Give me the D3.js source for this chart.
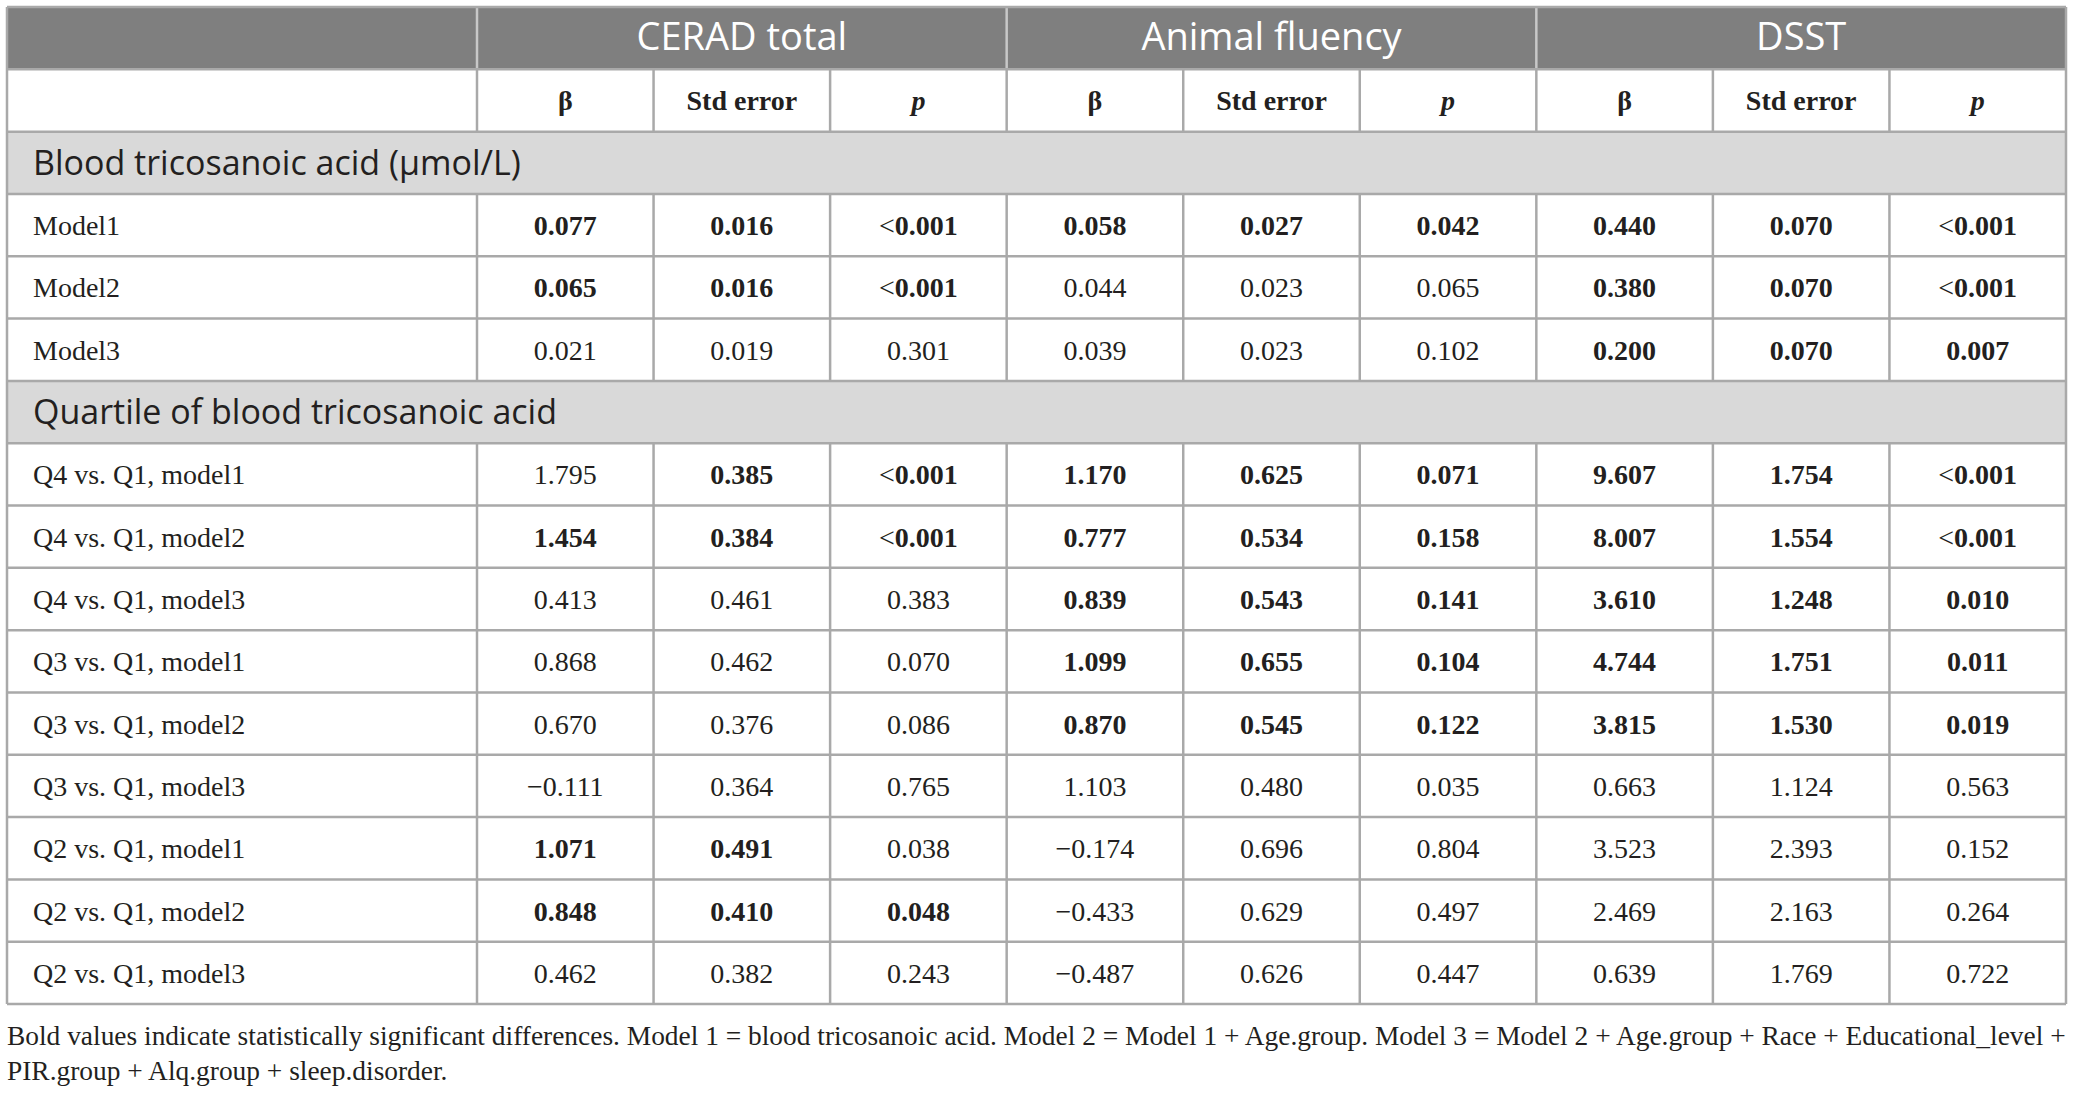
<!DOCTYPE html>
<html>
<head>
<meta charset="utf-8">
<script src="https://cdn.jsdelivr.net/npm/d3@7"></script>
<style>
  html, body { margin: 0; padding: 0; background: #fff; }
  svg { display: block; }
</style>
</head>
<body>
<svg id="chart" width="2073" height="1093"></svg>
<script>
// ---------- DATA ----------
const groups = ["CERAD total", "Animal fluency", "DSST"];
const subHeaders = ["β", "Std error", "p"];
const section1 = "Blood tricosanoic acid (μmol/L)";
const section2 = "Quartile of blood tricosanoic acid";

const labels1 = ["Model1", "Model2", "Model3"];
const values1 = [
  ["0.077", "0.016", "<0.001", "0.058", "0.027", "0.042", "0.440", "0.070", "<0.001"],
  ["0.065", "0.016", "<0.001", "0.044", "0.023", "0.065", "0.380", "0.070", "<0.001"],
  ["0.021", "0.019", "0.301", "0.039", "0.023", "0.102", "0.200", "0.070", "0.007"]
];
const bold1 = [
  [1,1,1, 1,1,1, 1,1,1],
  [1,1,1, 0,0,0, 1,1,1],
  [0,0,0, 0,0,0, 1,1,1]
];

const labels2 = [
  "Q4 vs. Q1, model1", "Q4 vs. Q1, model2", "Q4 vs. Q1, model3",
  "Q3 vs. Q1, model1", "Q3 vs. Q1, model2", "Q3 vs. Q1, model3",
  "Q2 vs. Q1, model1", "Q2 vs. Q1, model2", "Q2 vs. Q1, model3"
];
const values2 = [
  ["1.795", "0.385", "<0.001", "1.170", "0.625", "0.071", "9.607", "1.754", "<0.001"],
  ["1.454", "0.384", "<0.001", "0.777", "0.534", "0.158", "8.007", "1.554", "<0.001"],
  ["0.413", "0.461", "0.383", "0.839", "0.543", "0.141", "3.610", "1.248", "0.010"],
  ["0.868", "0.462", "0.070", "1.099", "0.655", "0.104", "4.744", "1.751", "0.011"],
  ["0.670", "0.376", "0.086", "0.870", "0.545", "0.122", "3.815", "1.530", "0.019"],
  ["\u22120.111", "0.364", "0.765", "1.103", "0.480", "0.035", "0.663", "1.124", "0.563"],
  ["1.071", "0.491", "0.038", "\u22120.174", "0.696", "0.804", "3.523", "2.393", "0.152"],
  ["0.848", "0.410", "0.048", "\u22120.433", "0.629", "0.497", "2.469", "2.163", "0.264"],
  ["0.462", "0.382", "0.243", "\u22120.487", "0.626", "0.447", "0.639", "1.769", "0.722"]
];
const bold2 = [
  [0,1,1, 1,1,1, 1,1,1],
  [1,1,1, 1,1,1, 1,1,1],
  [0,0,0, 1,1,1, 1,1,1],
  [0,0,0, 1,1,1, 1,1,1],
  [0,0,0, 1,1,1, 1,1,1],
  [0,0,0, 0,0,0, 0,0,0],
  [1,1,0, 0,0,0, 0,0,0],
  [1,1,1, 0,0,0, 0,0,0],
  [0,0,0, 0,0,0, 0,0,0]
];

const footnote = [
  "Bold values indicate statistically significant differences. Model 1 = blood tricosanoic acid. Model 2 = Model 1 + Age.group. Model 3 = Model 2 + Age.group + Race + Educational_level +",
  "PIR.group + Alq.group + sleep.disorder."
];

// ---------- LAYOUT ----------
const svg = d3.select("#chart");
const L = 7, R = 2066, T = 7, B = 1004, C0 = 477;
const serif = "'Liberation Serif', 'Times New Roman', serif";
const sans = "'Open Sans', 'Noto Sans', sans-serif";
const gridColor = "#a9a9a9";
const ink = "#231f20";

const rows = [];
rows.push({kind: "h1"});
rows.push({kind: "h2"});
rows.push({kind: "sec", text: section1});
labels1.forEach((l, i) => rows.push({kind: "data", label: l, vals: values1[i], bold: bold1[i]}));
rows.push({kind: "sec", text: section2});
labels2.forEach((l, i) => rows.push({kind: "data", label: l, vals: values2[i], bold: bold2[i]}));

const y = d3.scaleBand().domain(d3.range(rows.length)).range([T, B]).padding(0);
const colKeys = d3.range(9);
const x = d3.scaleBand().domain(colKeys).range([C0, R]).padding(0);
const gx = d3.scaleBand().domain(groups).range([C0, R]).padding(0);

// backgrounds
rows.forEach((r, i) => {
  let fill = null;
  if (r.kind === "h1") fill = "#7f7f7f";
  if (r.kind === "sec") fill = "#d9d9d9";
  if (fill) svg.append("rect").attr("x", L).attr("y", y(i)).attr("width", R - L).attr("height", y.bandwidth()).attr("fill", fill);
});

// header 1 text
svg.append("g").selectAll("text").data(groups).join("text")
  .attr("x", d => gx(d) + gx.bandwidth() / 2)
  .attr("y", y(0) + y.bandwidth() / 2 + 12)
  .attr("text-anchor", "middle")
  .attr("fill", "#ffffff")
  .style("font-family", sans).style("font-size", "38px")
  .text(d => d);

// header 1 dividers (lighter)
svg.append("g").selectAll("line").data(groups).join("line")
  .attr("x1", d => gx(d)).attr("x2", d => gx(d))
  .attr("y1", y(0)).attr("y2", y(0) + y.bandwidth())
  .attr("stroke", "#c8c8c8").attr("stroke-width", 2.5);

// header 2 text
svg.append("g").selectAll("text").data(colKeys).join("text")
  .attr("x", d => x(d) + x.bandwidth() / 2)
  .attr("y", y(1) + y.bandwidth() / 2 + 10)
  .attr("text-anchor", "middle")
  .attr("fill", ink)
  .style("font-family", serif).style("font-size", "28px").style("font-weight", "bold")
  .style("font-style", d => d % 3 === 2 ? "italic" : "normal")
  .text(d => subHeaders[d % 3]);

// section text
rows.forEach((r, i) => {
  if (r.kind !== "sec") return;
  svg.append("text")
    .attr("x", 33).attr("y", y(i) + y.bandwidth() / 2 + 12)
    .attr("fill", ink)
    .style("font-family", sans).style("font-size", "34px")
    .text(r.text);
});

// data rows
rows.forEach((r, i) => {
  if (r.kind !== "data") return;
  const cy = y(i) + y.bandwidth() / 2 + 10;
  svg.append("text")
    .attr("x", 33).attr("y", cy)
    .attr("fill", ink)
    .style("font-family", serif).style("font-size", "28px")
    .text(r.label);
  const cells = svg.append("g").selectAll("text").data(colKeys).join("text")
    .attr("x", d => x(d) + x.bandwidth() / 2)
    .attr("y", cy)
    .attr("text-anchor", "middle")
    .attr("fill", ink)
    .style("font-family", serif).style("font-size", "28px")
    .style("font-weight", d => r.bold[d] ? "bold" : "normal");
  cells.each(function(d) {
    const v = r.vals[d];
    const t = d3.select(this);
    if (v.startsWith("<")) {
      t.append("tspan").style("font-weight", "normal").text("<");
      t.append("tspan").text(v.slice(1));
    } else {
      t.text(v);
    }
  });
});

// grid lines
const grid = svg.append("g").attr("stroke", gridColor).attr("stroke-width", 2.5);
d3.range(rows.length + 1).forEach(i => {
  const yy = i < rows.length ? y(i) : B;
  grid.append("line").attr("x1", L).attr("x2", R).attr("y1", yy).attr("y2", yy);
});
grid.append("line").attr("x1", L).attr("x2", L).attr("y1", T).attr("y2", B);
grid.append("line").attr("x1", R).attr("x2", R).attr("y1", T).attr("y2", B);
rows.forEach((r, i) => {
  if (r.kind !== "h2" && r.kind !== "data") return;
  colKeys.forEach(c => {
    grid.append("line").attr("x1", x(c)).attr("x2", x(c))
      .attr("y1", y(i)).attr("y2", y(i) + y.bandwidth());
  });
});

// footnote
const fn = svg.append("g");
const fnFont = 22;
const line1 = fn.append("text").attr("x", L).attr("y", 1045)
  .attr("fill", ink).style("font-family", serif).style("font-size", fnFont + "px")
  .text(footnote[0]);
const w = line1.node().getComputedTextLength();
const fitSize = fnFont * (R - L) / w;
line1.style("font-size", fitSize + "px");
fn.append("text").attr("x", L).attr("y", 1080)
  .attr("fill", ink).style("font-family", serif).style("font-size", fitSize + "px")
  .text(footnote[1]);
</script>
</body>
</html>
